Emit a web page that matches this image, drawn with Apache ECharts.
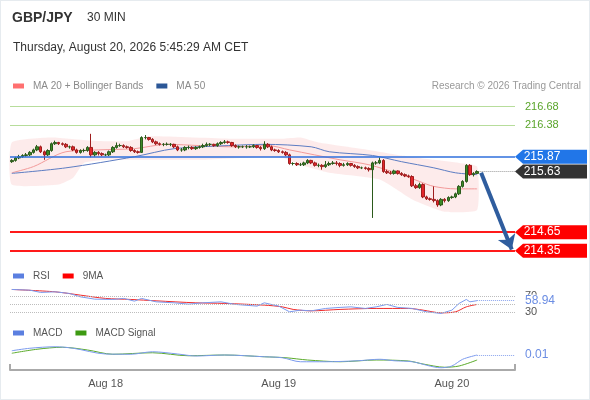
<!DOCTYPE html>
<html lang="en">
<head>
<meta charset="UTF-8">
<title>GBP/JPY 30 MIN</title>
<style>
  html, body { margin: 0; padding: 0; background: #fff; }
  #chart { width: 590px; height: 400px; }
  #frame { position: absolute; left: 0; top: 0; width: 590px; height: 400px; box-sizing: border-box; border: 1px solid #e6ebef; pointer-events: none; }
</style>
</head>
<body>
<div id="chart"></div>
<div id="frame"></div>
<script src="https://cdn.jsdelivr.net/npm/echarts@6/dist/echarts.min.js"></script>
<script>
// 30 min bars (open = previous close)
const firstOpen = 215.79;
const closes = [215.81,215.85,215.87,215.89,215.90,215.94,215.98,216.03,215.95,215.90,
  215.97,216.08,216.10,216.08,216.07,216.03,216.03,215.98,215.94,215.97,
  215.97,216.02,215.90,215.94,215.92,215.90,215.90,215.95,216.02,216.05,
  216.05,216.03,216.02,215.97,215.95,215.94,216.18,216.18,216.15,216.11,
  216.08,216.07,216.07,216.07,216.07,216.03,215.98,215.98,216.02,216.02,
  216.00,216.02,216.03,216.05,216.07,216.07,216.05,216.08,216.10,216.11,
  216.10,216.05,216.03,216.03,216.03,216.03,216.03,216.05,216.02,216.00,
  216.07,216.03,215.98,215.97,215.95,215.94,215.90,215.76,215.76,215.74,
  215.74,215.77,215.81,215.77,215.73,215.73,215.71,215.74,215.76,215.77,
  215.76,215.73,215.74,215.76,215.73,215.71,215.69,215.69,215.68,215.66,
  215.77,215.77,215.81,215.63,215.61,215.60,215.64,215.60,215.58,215.56,
  215.55,215.40,215.37,215.42,215.22,215.19,215.18,215.16,215.09,215.18,
  215.16,215.21,215.22,215.27,215.39,215.47,215.73,215.58,215.60,215.63];
const highs = [215.83,215.87,215.90,215.91,215.93,215.96,216.00,216.06,216.05,215.97,
  215.99,216.10,216.13,216.11,216.10,216.09,216.05,216.05,216.00,215.99,
  216.00,216.04,216.24,215.96,215.96,215.94,215.92,215.97,216.04,216.10,
  216.08,216.07,216.05,216.04,215.99,215.97,216.20,216.22,216.19,216.17,
  216.13,216.10,216.09,216.10,216.09,216.08,216.05,216.01,216.04,216.05,
  216.04,216.04,216.05,216.08,216.10,216.09,216.08,216.10,216.12,216.14,
  216.13,216.11,216.07,216.05,216.05,216.06,216.05,216.07,216.06,216.04,
  216.12,216.09,216.05,216.00,215.99,215.97,215.96,215.92,215.78,215.78,
  215.77,215.79,215.83,215.82,215.79,215.76,215.75,215.80,215.79,215.80,
  215.80,215.78,215.77,215.78,215.77,215.75,215.73,215.71,215.71,215.70,
  215.79,215.80,215.86,215.83,215.66,215.64,215.66,215.65,215.62,215.60,
  215.58,215.57,215.43,215.45,215.44,215.24,215.21,215.39,215.18,215.20,
  215.20,215.23,215.24,215.29,215.41,215.49,215.75,215.75,215.62,215.65];
const lows = [215.77,215.79,215.83,215.85,215.87,215.88,215.92,215.96,215.93,215.82,
  215.88,215.95,216.06,216.06,216.05,216.01,216.00,215.96,215.92,215.92,
  215.94,215.95,215.86,215.87,215.89,215.88,215.88,215.88,215.93,216.00,
  216.03,216.01,216.00,215.95,215.93,215.92,215.93,216.15,216.13,216.09,
  216.06,216.05,216.04,216.05,216.04,216.01,215.96,215.95,215.96,215.99,
  215.98,215.98,216.00,216.01,216.03,216.04,216.03,216.03,216.06,216.08,
  216.08,216.03,216.01,216.00,216.01,216.00,216.01,216.01,216.00,215.97,
  215.98,216.01,215.96,215.95,215.93,215.92,215.88,215.74,215.73,215.72,
  215.72,215.72,215.75,215.75,215.71,215.70,215.66,215.69,215.72,215.74,
  215.73,215.70,215.71,215.72,215.71,215.69,215.67,215.67,215.66,215.63,
  214.88,215.74,215.75,215.61,215.59,215.58,215.58,215.58,215.56,215.54,
  215.53,215.38,215.35,215.35,215.20,215.17,215.16,215.13,215.06,215.07,
  215.13,215.14,215.19,215.20,215.25,215.37,215.45,215.56,215.55,215.59];
const opens = [firstOpen].concat(closes.slice(0, -1));

const slots = 140;                       // bars + empty room on the right
const dayLabels = ['Aug 18', 'Aug 19', 'Aug 20'];
const dayIndex = [26, 74, 122];

// overlays read at a few bars
const ma20Idx = [0, 6, 15, 24, 34, 43, 52, 61, 71, 77, 91, 99, 108, 113, 117, 123, 129];
const ma20Val = [215.61, 215.71, 215.95, 215.98, 216.00, 216.07, 216.05, 216.03, 216.05, 215.98, 215.82, 215.74, 215.58, 215.47, 215.39, 215.35, 215.35];
const ma50Idx = [0, 15, 34, 45, 60, 70, 83, 88, 100, 108, 117, 123, 129];
const ma50Val = [215.60, 215.69, 215.87, 216.00, 216.05, 216.07, 216.03, 215.95, 215.89, 215.79, 215.69, 215.61, 215.58];
const upperIdx = [0, 11, 22, 32, 38, 61, 75, 80, 85, 99, 108, 117, 124, 129];
const upperVal = [216.10, 216.18, 216.13, 216.12, 216.20, 216.16, 216.16, 216.18, 216.10, 215.98, 215.89, 215.82, 215.77, 215.71];
const lowerIdx = [0, 13, 17, 20, 27, 52, 74, 80, 88, 102, 111, 120, 129];
const lowerVal = [215.42, 215.42, 215.53, 215.77, 215.82, 215.82, 215.87, 215.74, 215.61, 215.50, 215.18, 214.98, 215.01];

const rsiIdx = [0,5,8,12,16,19,23,28,31,34,36,40,45,49,53,58,62,68,70,74,77,80,83,87,91,94,98,101,104,107,111,115,119,122,124,126,127,129];
const rsiVal = [86.4,84.7,79.1,80.6,76.6,68.3,62.6,61.9,64.4,57.7,64.4,56.0,53.6,50.4,53.6,56.0,49.6,45.5,53.6,45.5,31.5,35.6,33.9,39.8,42.3,43.7,39.8,43.7,49.6,42.3,39.8,31.5,27.5,35.6,52.1,61.9,56.0,58.94];
const rsiMaIdx = [0,12,19,26,33,40,51,59,70,75,78,83,91,101,110,114,119,123,126,129];
const rsiMaVal = [86.4,80.6,72.5,64.4,61.9,58.5,53.6,52.1,47.9,43.7,37.4,33.9,37.4,39.8,39.8,35.6,29.0,31.5,43.7,49.6];
const rsiLevels = [70, 50, 30];

const macdIdx = [0,5,12,17,26,33,39,46,51,59,70,75,80,87,96,102,106,111,119,122,125,129];
const macdVal = [0.027,0.037,0.043,0.037,0.014,0.013,0.023,0.014,0.006,0.010,0.003,-0.001,-0.017,-0.017,-0.013,-0.007,-0.013,-0.017,-0.041,-0.034,-0.007,0.010];
const signalIdx = [0,7,14,21,28,39,49,59,70,76,82,91,101,110,114,120,124,129];
const signalVal = [0.017,0.033,0.041,0.030,0.013,0.019,0.007,0.010,0.003,-0.001,-0.010,-0.017,-0.010,-0.014,-0.026,-0.039,-0.034,-0.010];

// key levels
const resistances = [216.68, 216.38];
const pivot = 215.87;
const supports = [214.65, 214.35];
const lastPrice = 215.63;
const lastRsi = 58.94;
const lastMacd = 0.01;
const arrowFrom = [130.1, 215.61];
const arrowTo = [138.6, 214.37];

const pairs = (xs, ys) => xs.map((x, i) => [x, ys[i]]);
const cats = Array.from({ length: slots }, (_, i) => String(i));
const dayCats = cats.map((c, i) => { const k = dayIndex.indexOf(i); return k >= 0 ? dayLabels[k] : ''; });
const candleData = closes.map((c, i) => [opens[i], c, lows[i], highs[i]]);
const edge = slots - 0.5;
const lastBar = closes.length - 1;

const chart = echarts.init(document.getElementById('chart'));
const font = 'Liberation Sans, Arial, sans-serif';

const tag = (v, color) => ({
  name: v.toFixed(2), coord: [edge, v], itemStyle: { color: color }
});

chart.setOption({
  animation: false,
  textStyle: { fontFamily: font },
  title: [
    { text: 'GBP/JPY', left: 12, top: 11, padding: 0, textStyle: { fontSize: 14, fontWeight: 'bold', color: '#333', fontFamily: font } },
    { text: '30 MIN', left: 87, top: 12, padding: 0, textStyle: { fontSize: 12, fontWeight: 'normal', color: '#333', fontFamily: font } },
    { text: 'Thursday, August 20, 2026 5:45:29 AM CET', left: 13, top: 42, padding: 0, textStyle: { fontSize: 12, fontWeight: 'normal', color: '#333', fontFamily: font } },
    { text: 'Research © 2026 Trading Central', right: 9, top: 81, padding: 0, textStyle: { fontSize: 10, fontWeight: 'normal', color: '#999', fontFamily: font } }
  ],
  legend: [
    { left: 13, top: 81, padding: 0, itemWidth: 11, itemHeight: 5, itemGap: 13, icon: 'rect',
      textStyle: { fontSize: 10, color: '#8a8a8a', padding: [0, 0, 0, 4] },
      data: [{ name: 'MA 20 + Bollinger Bands', itemStyle: { color: '#ff7070' } }, { name: 'MA 50', itemStyle: { color: '#2c5797' } }] },
    { left: 13, top: 271, padding: 0, itemWidth: 11, itemHeight: 5, itemGap: 13, icon: 'rect',
      textStyle: { fontSize: 10, color: '#555', padding: [0, 0, 0, 4] },
      data: [{ name: 'RSI', itemStyle: { color: '#5b7fe0' } }, { name: '9MA', itemStyle: { color: '#ff0000' } }] },
    { left: 13, top: 328, padding: 0, itemWidth: 11, itemHeight: 5, itemGap: 13, icon: 'rect',
      textStyle: { fontSize: 10, color: '#555', padding: [0, 0, 0, 4] },
      data: [{ name: 'MACD', itemStyle: { color: '#5b7fe0' } }, { name: 'MACD Signal', itemStyle: { color: '#3d9a12' } }] }
  ],
  grid: [
    { left: 10, width: 505, top: 93, height: 167 },
    { left: 10, width: 505, top: 288, height: 28.5 },
    { left: 10, width: 505, top: 340, height: 30 }
  ],
  xAxis: [
    { type: 'category', gridIndex: 0, data: cats, show: false, position: 'bottom' },
    { type: 'value', gridIndex: 0, min: -0.5, max: edge, show: false, position: 'bottom' },
    { type: 'value', gridIndex: 1, min: -0.5, max: edge, show: false, position: 'bottom' },
    { type: 'value', gridIndex: 2, min: -0.5, max: edge, show: false, position: 'bottom' },
    { type: 'category', gridIndex: 2, data: dayCats, position: 'bottom',
      axisLine: { lineStyle: { color: '#aaa', width: 2 } },
      axisTick: { show: true, inside: true, length: 6, interval: (i) => i === 0, lineStyle: { color: '#aaa', width: 2 } },
      axisLabel: { interval: 0, color: '#555', fontSize: 11, margin: 8 },
      splitLine: { show: false } }
  ],
  yAxis: [
    { type: 'value', gridIndex: 0, min: 214.2, max: 216.9, show: false },
    { type: 'value', gridIndex: 1, min: 20, max: 90, show: false },
    { type: 'value', gridIndex: 2, min: -0.05, max: 0.07, show: false }
  ],
  series: [
    {
      name: 'band', type: 'custom', xAxisIndex: 1, yAxisIndex: 0, silent: true, z: 1,
      data: [[upperIdx[0], upperVal[0]]],
      renderItem: function (params, api) {
        const pts = [];
        upperIdx.forEach((x, i) => pts.push(api.coord([x, upperVal[i]])));
        for (let i = lowerIdx.length - 1; i >= 0; i--) pts.push(api.coord([lowerIdx[i], lowerVal[i]]));
        return { type: 'polygon', shape: { points: pts, smooth: 0.15 }, style: { fill: 'rgba(240,70,70,0.11)' } };
      }
    },
    {
      name: 'MA 20 + Bollinger Bands', type: 'line', xAxisIndex: 1, yAxisIndex: 0, z: 2,
      data: pairs(ma20Idx, ma20Val), smooth: 0.3, showSymbol: false, symbol: 'none',
      itemStyle: { color: '#ff7070' }, lineStyle: { color: '#f29a9a', width: 1 }
    },
    {
      name: 'MA 50', type: 'line', xAxisIndex: 1, yAxisIndex: 0, z: 2,
      data: pairs(ma50Idx, ma50Val), smooth: 0.3, showSymbol: false, symbol: 'none',
      itemStyle: { color: '#2c5797' }, lineStyle: { color: '#5c7cc2', width: 1 }
    },
    {
      name: 'GBP/JPY', type: 'candlestick', xAxisIndex: 0, yAxisIndex: 0, z: 3,
      data: candleData, barWidth: 3,
      itemStyle: { color: '#3d8a26', color0: '#e3262b', borderColor: '#2b5a1b', borderColor0: '#9e1d1d', borderWidth: 1 }
    },
    {
      name: 'levels', type: 'line', xAxisIndex: 1, yAxisIndex: 0, z: 5, data: [], silent: true,
      markLine: {
        silent: true, symbol: ['none', 'none'], animation: false,
        data: [
          ...resistances.map(v => ({ yAxis: v, lineStyle: { color: '#b7dd9b', width: 1, type: 'solid' },
            label: { show: true, position: 'end', distance: 10, formatter: v.toFixed(2), color: '#5aa52b', fontSize: 11 } })),
          { yAxis: pivot, lineStyle: { color: '#2f6fdc', width: 1.5, type: 'solid' }, label: { show: false } },
          ...supports.map(v => ({ yAxis: v, lineStyle: { color: '#ff1a1a', width: 2, type: 'solid' }, label: { show: false } })),
          [{ coord: [lastBar + 0.7, lastPrice], lineStyle: { color: '#999', width: 1, type: 'dotted' }, label: { show: false } },
           { coord: [edge, lastPrice] }],
          [{ coord: arrowFrom, symbol: 'none', lineStyle: { color: '#2f5d9e', width: 4, type: 'solid', curveness: 0.2 }, label: { show: false } },
           { coord: arrowTo, symbol: 'arrow', symbolSize: 14 }]
        ]
      },
      markPoint: {
        silent: true,
        symbol: 'path://M0,7L8,0L72,0L72,14L8,14Z',
        symbolSize: [72, 14],
        symbolOffset: [36, 0],
        label: { show: true, position: 'inside', formatter: '{b}', color: '#fff', fontSize: 12, offset: [-9, 0] },
        data: [tag(pivot, '#2176e8'), tag(lastPrice, '#333333'), tag(supports[0], '#ff0000'), tag(supports[1], '#ff0000')]
      }
    },
    {
      name: 'RSI', type: 'line', xAxisIndex: 2, yAxisIndex: 1, z: 3,
      data: pairs(rsiIdx, rsiVal), showSymbol: false, symbol: 'none',
      itemStyle: { color: '#5b7fe0' }, lineStyle: { color: '#7b9aee', width: 1 },
      markLine: {
        silent: true, symbol: ['none', 'none'],
        data: [
          ...rsiLevels.map(v => ({ yAxis: v, lineStyle: { color: '#bdbdbd', width: 1, type: 'dotted' },
            label: { show: v !== 50, position: 'end', distance: 10, formatter: String(v), color: '#555', fontSize: 11 } })),
          [{ coord: [lastBar, lastRsi], lineStyle: { color: '#8aa4ee', width: 1, type: 'dotted' },
             label: { show: true, position: 'end', distance: 10, formatter: lastRsi.toFixed(2), color: '#6b8de3', fontSize: 12, backgroundColor: '#fff' } },
           { coord: [edge, lastRsi] }]
        ]
      }
    },
    {
      name: '9MA', type: 'line', xAxisIndex: 2, yAxisIndex: 1, z: 2,
      data: pairs(rsiMaIdx, rsiMaVal), smooth: 0.3, showSymbol: false, symbol: 'none',
      itemStyle: { color: '#ff0000' }, lineStyle: { color: '#f02a2a', width: 1 }
    },
    {
      name: 'MACD', type: 'line', xAxisIndex: 3, yAxisIndex: 2, z: 3,
      data: pairs(macdIdx, macdVal), smooth: 0.3, showSymbol: false, symbol: 'none',
      itemStyle: { color: '#5b7fe0' }, lineStyle: { color: '#7b9aee', width: 1 },
      markLine: {
        silent: true, symbol: ['none', 'none'],
        data: [
          [{ coord: [lastBar, lastMacd], lineStyle: { color: '#8aa4ee', width: 1, type: 'dotted' },
             label: { show: true, position: 'end', distance: 10, formatter: lastMacd.toFixed(2), color: '#6b8de3', fontSize: 12 } },
           { coord: [edge, lastMacd] }]
        ]
      }
    },
    {
      name: 'MACD Signal', type: 'line', xAxisIndex: 3, yAxisIndex: 2, z: 2,
      data: pairs(signalIdx, signalVal), smooth: 0.3, showSymbol: false, symbol: 'none',
      itemStyle: { color: '#3d9a12' }, lineStyle: { color: '#5aaa2a', width: 1 }
    }
  ]
});
</script>
</body>
</html>
